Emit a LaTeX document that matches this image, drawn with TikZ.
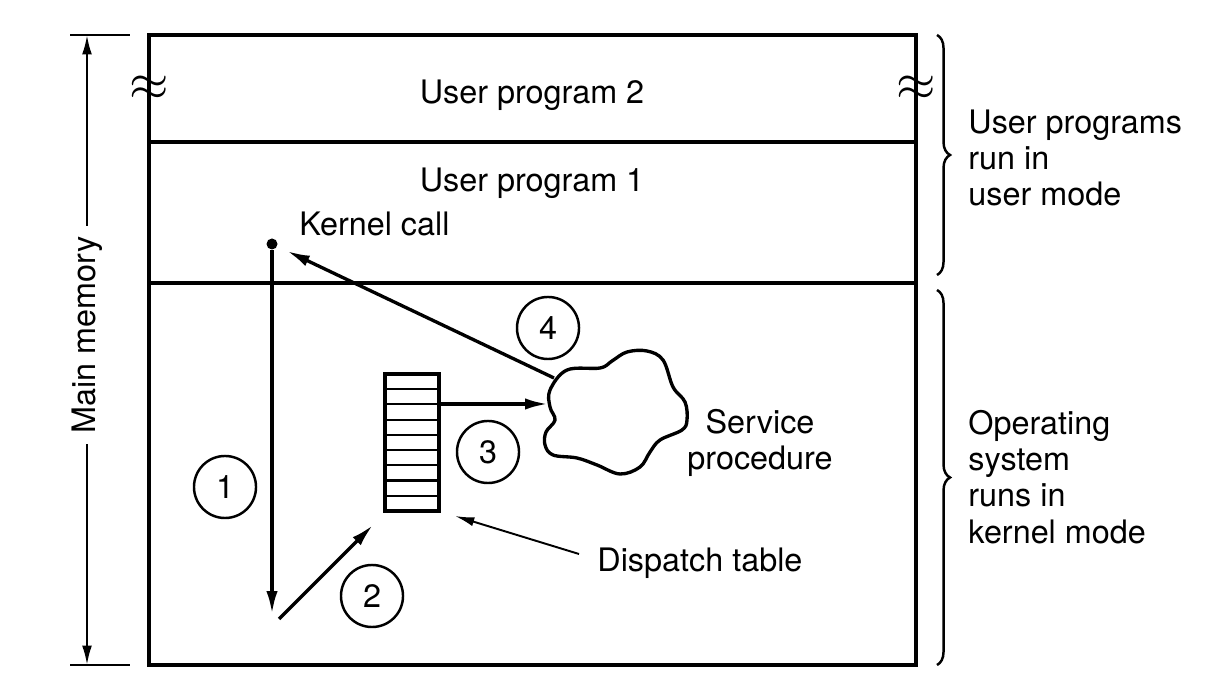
\documentclass[tikz,border=0pt]{standalone}
\usepackage{fontspec}
\setmainfont{TeX Gyre Heros}
\usetikzlibrary{arrows.meta,decorations.pathreplacing}
\tikzset{
	memline/.style={line width=0.95pt},
	flowarrow/.style={line width=0.95pt,-{Latex[length=6.5pt,width=3.2pt]}},
	pointarrow/.style={line width=0.55pt,-{Latex[length=5.5pt,width=2.6pt]}},
	stepnum/.style={draw,circle,line width=0.7pt,minimum size=0.62cm,inner sep=0pt},
	sidebrace/.style={decorate,decoration={brace,amplitude=0.13cm},line width=0.7pt},
}

\begin{document}
\begin{tikzpicture}[x=0.01cm,y=-0.01cm,font=\fontsize{9.2}{10.3}\selectfont]
			\useasboundingbox (0,0) rectangle (1222,698);
			%%%%% START %%%%%
			\draw[memline] (149,35) rectangle (916,665);
			\draw[memline] (149,142) -- (916,142);
			\draw[memline] (149,283) -- (916,283);
			\node[font=\fontsize{15}{15}\selectfont] (ltilde) at (149,88) {$\approx$};
			\node[font=\fontsize{15}{15}\selectfont] (rtilde) at (916,88) {$\approx$};
			
			\node (prog2) at (532,95) {User program 2};
			\node (prog1) at (532,183) {User program 1};
			
			% main memory dimension
			\draw[line width=0.65pt] (70,35) -- (130,35);
			\draw[line width=0.65pt] (70,665) -- (130,665);
			\coordinate (memtop) at (87,35);
			\coordinate (membot) at (87,665);
			\draw[line width=0.65pt,{Latex[length=5.5pt,width=2.8pt]}-{Latex[length=5.5pt,width=2.8pt]}] (memtop) -- (membot);
			\node[fill=white,rotate=90,inner xsep=3pt] (memlabel) at (87,335) {Main memory};
			
			% kernel call
			\node[circle,fill=black,inner sep=0pt,minimum size=0.11cm] (kcall) at (272,244) {};
			\node[anchor=west] (kcalltext) at (287,224) {Kernel call};
			\coordinate (trapend) at (272,614);
			\draw[flowarrow] (kcall) -- (trapend);
			\node[stepnum] (one) at (225,487) {1};
			
			% dispatch table
			\draw[memline] (385,374) rectangle (439,511);
			\foreach \row in {1,...,8}
				\draw[line width=0.6pt] (385,{374+\row*137/9}) -- (439,{374+\row*137/9});
			\coordinate (tableout) at (439,404);
			\coordinate (lookstart) at (279,619);
			\coordinate (lookend) at (373,525);
			\draw[flowarrow] (lookstart) -- (lookend);
			\node[stepnum] (two) at (372,596) {2};
			
			% service procedure
			\draw[memline] plot[smooth cycle,tension=0.6] coordinates {(550,390) (567,370) (600,368) (612,361) (627,352) (647,351) (663,360) (673,387) (685,402) (687,420) (682,430) (660,440) (650,452) (640,467) (620,474) (597,465) (577,458) (553,455) (545,445) (546,432) (555,420) (550,407)};
			\coordinate (cloudin) at (548,404);
			\coordinate (cloudout) at (554,378);
			\draw[flowarrow] (tableout) -- (cloudin);
			\node[stepnum] (three) at (488,452) {3};
			\draw[flowarrow] (cloudout) -- (287,251);
			\node[stepnum] (four) at (548,328) {4};
			\node[align=center] (service) at (760,443) {Service\\procedure};
			
			\node[anchor=west] (disptext) at (585,563) {Dispatch table};
			\coordinate (dispfrom) at (579,554);
			\coordinate (dispto) at (455,516);
			\draw[pointarrow] (dispfrom) -- (dispto);
			
			% braces on the right
			\draw[sidebrace] (937,35) -- (937,275);
			\draw[sidebrace] (937,290) -- (937,665);
			\node[anchor=west,align=left] (usermode) at (956,158) {User programs\\run in\\user mode};
			\node[anchor=west,align=left] (kernelmode) at (956,477) {Operating\\system\\runs in\\kernel mode};
			%%%%% END %%%%%
		\end{tikzpicture}
\end{document}
